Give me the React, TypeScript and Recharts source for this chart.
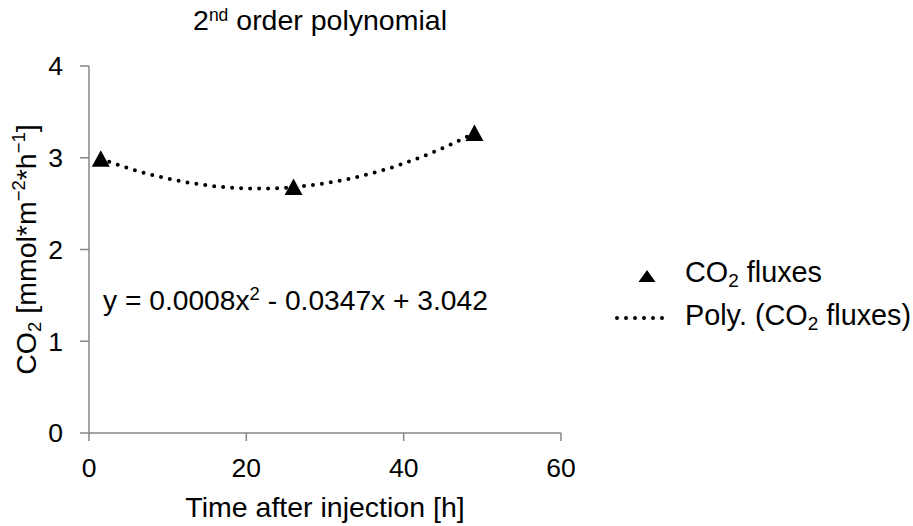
import React from 'react';
import {
  ComposedChart,
  Line,
  Scatter,
  XAxis,
  YAxis,
  Legend,
  Customized,
} from 'recharts';

// Measured CO2 fluxes
const hours = [1.5, 26, 49];
const fluxes = [2.99, 2.68, 3.27];

const xTicks = [0, 20, 40, 60];
const yTicks = [0, 1, 2, 3, 4];

const titleMain = '2';
const titleSup = 'nd';
const titleRest = ' order polynomial';
const xTitle = 'Time after injection [h]';
const equationParts = ['y = 0.0008x', '2', ' - 0.0347x + 3.042'];
const seriesName = 'fluxes';

const data = hours.map((h, i) => ({ x: h, y: fluxes[i] }));

const FONT = '"Liberation Sans", Arial, Helvetica, sans-serif';
const AXIS_COLOR = '#868686';

// Curve factory for a polynomial trendline: draws the Lagrange polynomial
// passing through the plotted points (a 2nd-order curve for three points).
const polynomialThrough = (context: any) => {
  let pts: [number, number][] = [];
  return {
    areaStart() {},
    areaEnd() {},
    lineStart() {
      pts = [];
    },
    point(x: number, y: number) {
      pts.push([+x, +y]);
    },
    lineEnd() {
      if (!pts.length) return;
      if (pts.length < 3) {
        context.moveTo(pts[0][0], pts[0][1]);
        for (let i = 1; i < pts.length; i++) context.lineTo(pts[i][0], pts[i][1]);
        return;
      }
      const f = (x: number) => {
        let s = 0;
        for (let i = 0; i < pts.length; i++) {
          let term = pts[i][1];
          for (let j = 0; j < pts.length; j++) {
            if (j !== i) term *= (x - pts[j][0]) / (pts[i][0] - pts[j][0]);
          }
          s += term;
        }
        return s;
      };
      const x0 = pts[0][0];
      const x1 = pts[pts.length - 1][0];
      const steps = 160;
      context.moveTo(x0, f(x0));
      for (let k = 1; k <= steps; k++) {
        const x = x0 + ((x1 - x0) * k) / steps;
        context.lineTo(x, f(x));
      }
    },
  };
};

const Triangle = (props: any) => {
  const { cx, cy } = props;
  if (cx == null || cy == null) return null;
  return (
    <polygon
      points={`${cx},${cy - 8.5} ${cx - 9},${cy + 8} ${cx + 9},${cy + 8}`}
      fill="#000"
    />
  );
};

const YTitle = (props: any) => {
  const vb = props.viewBox || {};
  const cx = 36;
  const cy = vb.y + vb.height / 2;
  return (
    <text
      x={cx}
      y={cy}
      transform={`rotate(-90, ${cx}, ${cy})`}
      textAnchor="middle"
      fontFamily={FONT}
      fontSize={28.5}
      fill="#000"
    >
      <tspan>CO</tspan>
      <tspan fontSize={18.5} dy={5}>2</tspan>
      <tspan dy={-5}> [mmol*m</tspan>
      <tspan fontSize={18.5} dy={-11}>−2</tspan>
      <tspan dy={11}>*h</tspan>
      <tspan fontSize={18.5} dy={-11}>−1</tspan>
      <tspan dy={11}>]</tspan>
    </text>
  );
};

const XTitle = (props: any) => {
  const vb = props.viewBox || {};
  return (
    <text
      x={vb.x + vb.width / 2}
      y={vb.y + 84}
      textAnchor="middle"
      fontFamily={FONT}
      fontSize={28.5}
      fill="#000"
    >
      {xTitle}
    </text>
  );
};

const Annotations = () => (
  <g>
    <text x={320} y={30} textAnchor="middle" fontFamily={FONT} fontSize={28.5} fill="#000">
      <tspan>{titleMain}</tspan>
      <tspan fontSize={17.5} dy={-9}>{titleSup}</tspan>
      <tspan dy={9}>{titleRest}</tspan>
    </text>
    <text x={103} y={310} fontFamily={FONT} fontSize={28.2} fill="#000">
      <tspan>{equationParts[0]}</tspan>
      <tspan fontSize={18.5} dy={-10}>{equationParts[1]}</tspan>
      <tspan dy={10}>{equationParts[2]}</tspan>
    </text>
  </g>
);

const LegendContent = () => (
  <svg width={313} height={90} style={{ display: 'block', overflow: 'visible' }}>
    <polygon points="47,20 38.5,32 55.5,32" fill="#000" />
    <text x={85} y={32} fontFamily={FONT} fontSize={28.8} fill="#000">
      <tspan>CO</tspan>
      <tspan fontSize={19} dy={5}>2</tspan>
      <tspan dy={-5}> {seriesName}</tspan>
    </text>
    <line
      x1={17}
      y1={68}
      x2={71}
      y2={68}
      stroke="#000"
      strokeWidth={4}
      strokeDasharray="0 9"
      strokeLinecap="round"
    />
    <text x={85} y={75} fontFamily={FONT} fontSize={28.8} fill="#000">
      <tspan>Poly. (CO</tspan>
      <tspan fontSize={19} dy={5}>2</tspan>
      <tspan dy={-5}> {seriesName})</tspan>
    </text>
  </svg>
);

const tickStyle = { fontSize: 26.5, fill: '#000', fontFamily: FONT };

export default function App() {
  return (
    <div style={{ position: 'absolute', left: 0, top: 0, background: '#fff' }}>
      <ComposedChart
        width={913}
        height={526}
        data={data}
        margin={{ top: 66, right: 352, bottom: 0, left: 0 }}
      >
        <XAxis
          dataKey="x"
          type="number"
          domain={[0, 60]}
          ticks={xTicks}
          tick={tickStyle}
          tickSize={8}
          tickMargin={17}
          height={93}
          axisLine={{ stroke: AXIS_COLOR, strokeWidth: 1.5 }}
          tickLine={{ stroke: AXIS_COLOR, strokeWidth: 1.5 }}
          label={<XTitle />}
        />
        <XAxis
          xAxisId="top"
          orientation="top"
          type="number"
          domain={[0, 60]}
          height={0}
          tick={false}
          tickLine={false}
          axisLine={{ stroke: '#c4c4c4', strokeWidth: 1.5 }}
        />
        <YAxis
          type="number"
          domain={[0, 4]}
          ticks={yTicks}
          tick={tickStyle}
          tickSize={9}
          tickMargin={17}
          width={89}
          axisLine={{ stroke: AXIS_COLOR, strokeWidth: 1.5 }}
          tickLine={{ stroke: AXIS_COLOR, strokeWidth: 1.5 }}
          label={<YTitle />}
        />
        <YAxis
          yAxisId="right"
          orientation="right"
          type="number"
          domain={[0, 4]}
          width={0}
          tick={false}
          tickLine={false}
          axisLine={{ stroke: '#5a5a5a', strokeWidth: 1.5 }}
        />
        <Line
          dataKey="y"
          type={polynomialThrough as any}
          stroke="#000"
          strokeWidth={4}
          strokeDasharray="0 9"
          strokeLinecap="round"
          dot={false}
          activeDot={false}
          legendType="none"
          isAnimationActive={false}
        />
        <Scatter dataKey="y" fill="#000" shape={<Triangle />} isAnimationActive={false} />
        <Legend
          layout="vertical"
          align="center"
          verticalAlign="middle"
          content={<LegendContent />}
          wrapperStyle={{ left: 600, top: 250, width: 313, height: 90 }}
        />
        <Customized component={<Annotations />} />
      </ComposedChart>
    </div>
  );
}
